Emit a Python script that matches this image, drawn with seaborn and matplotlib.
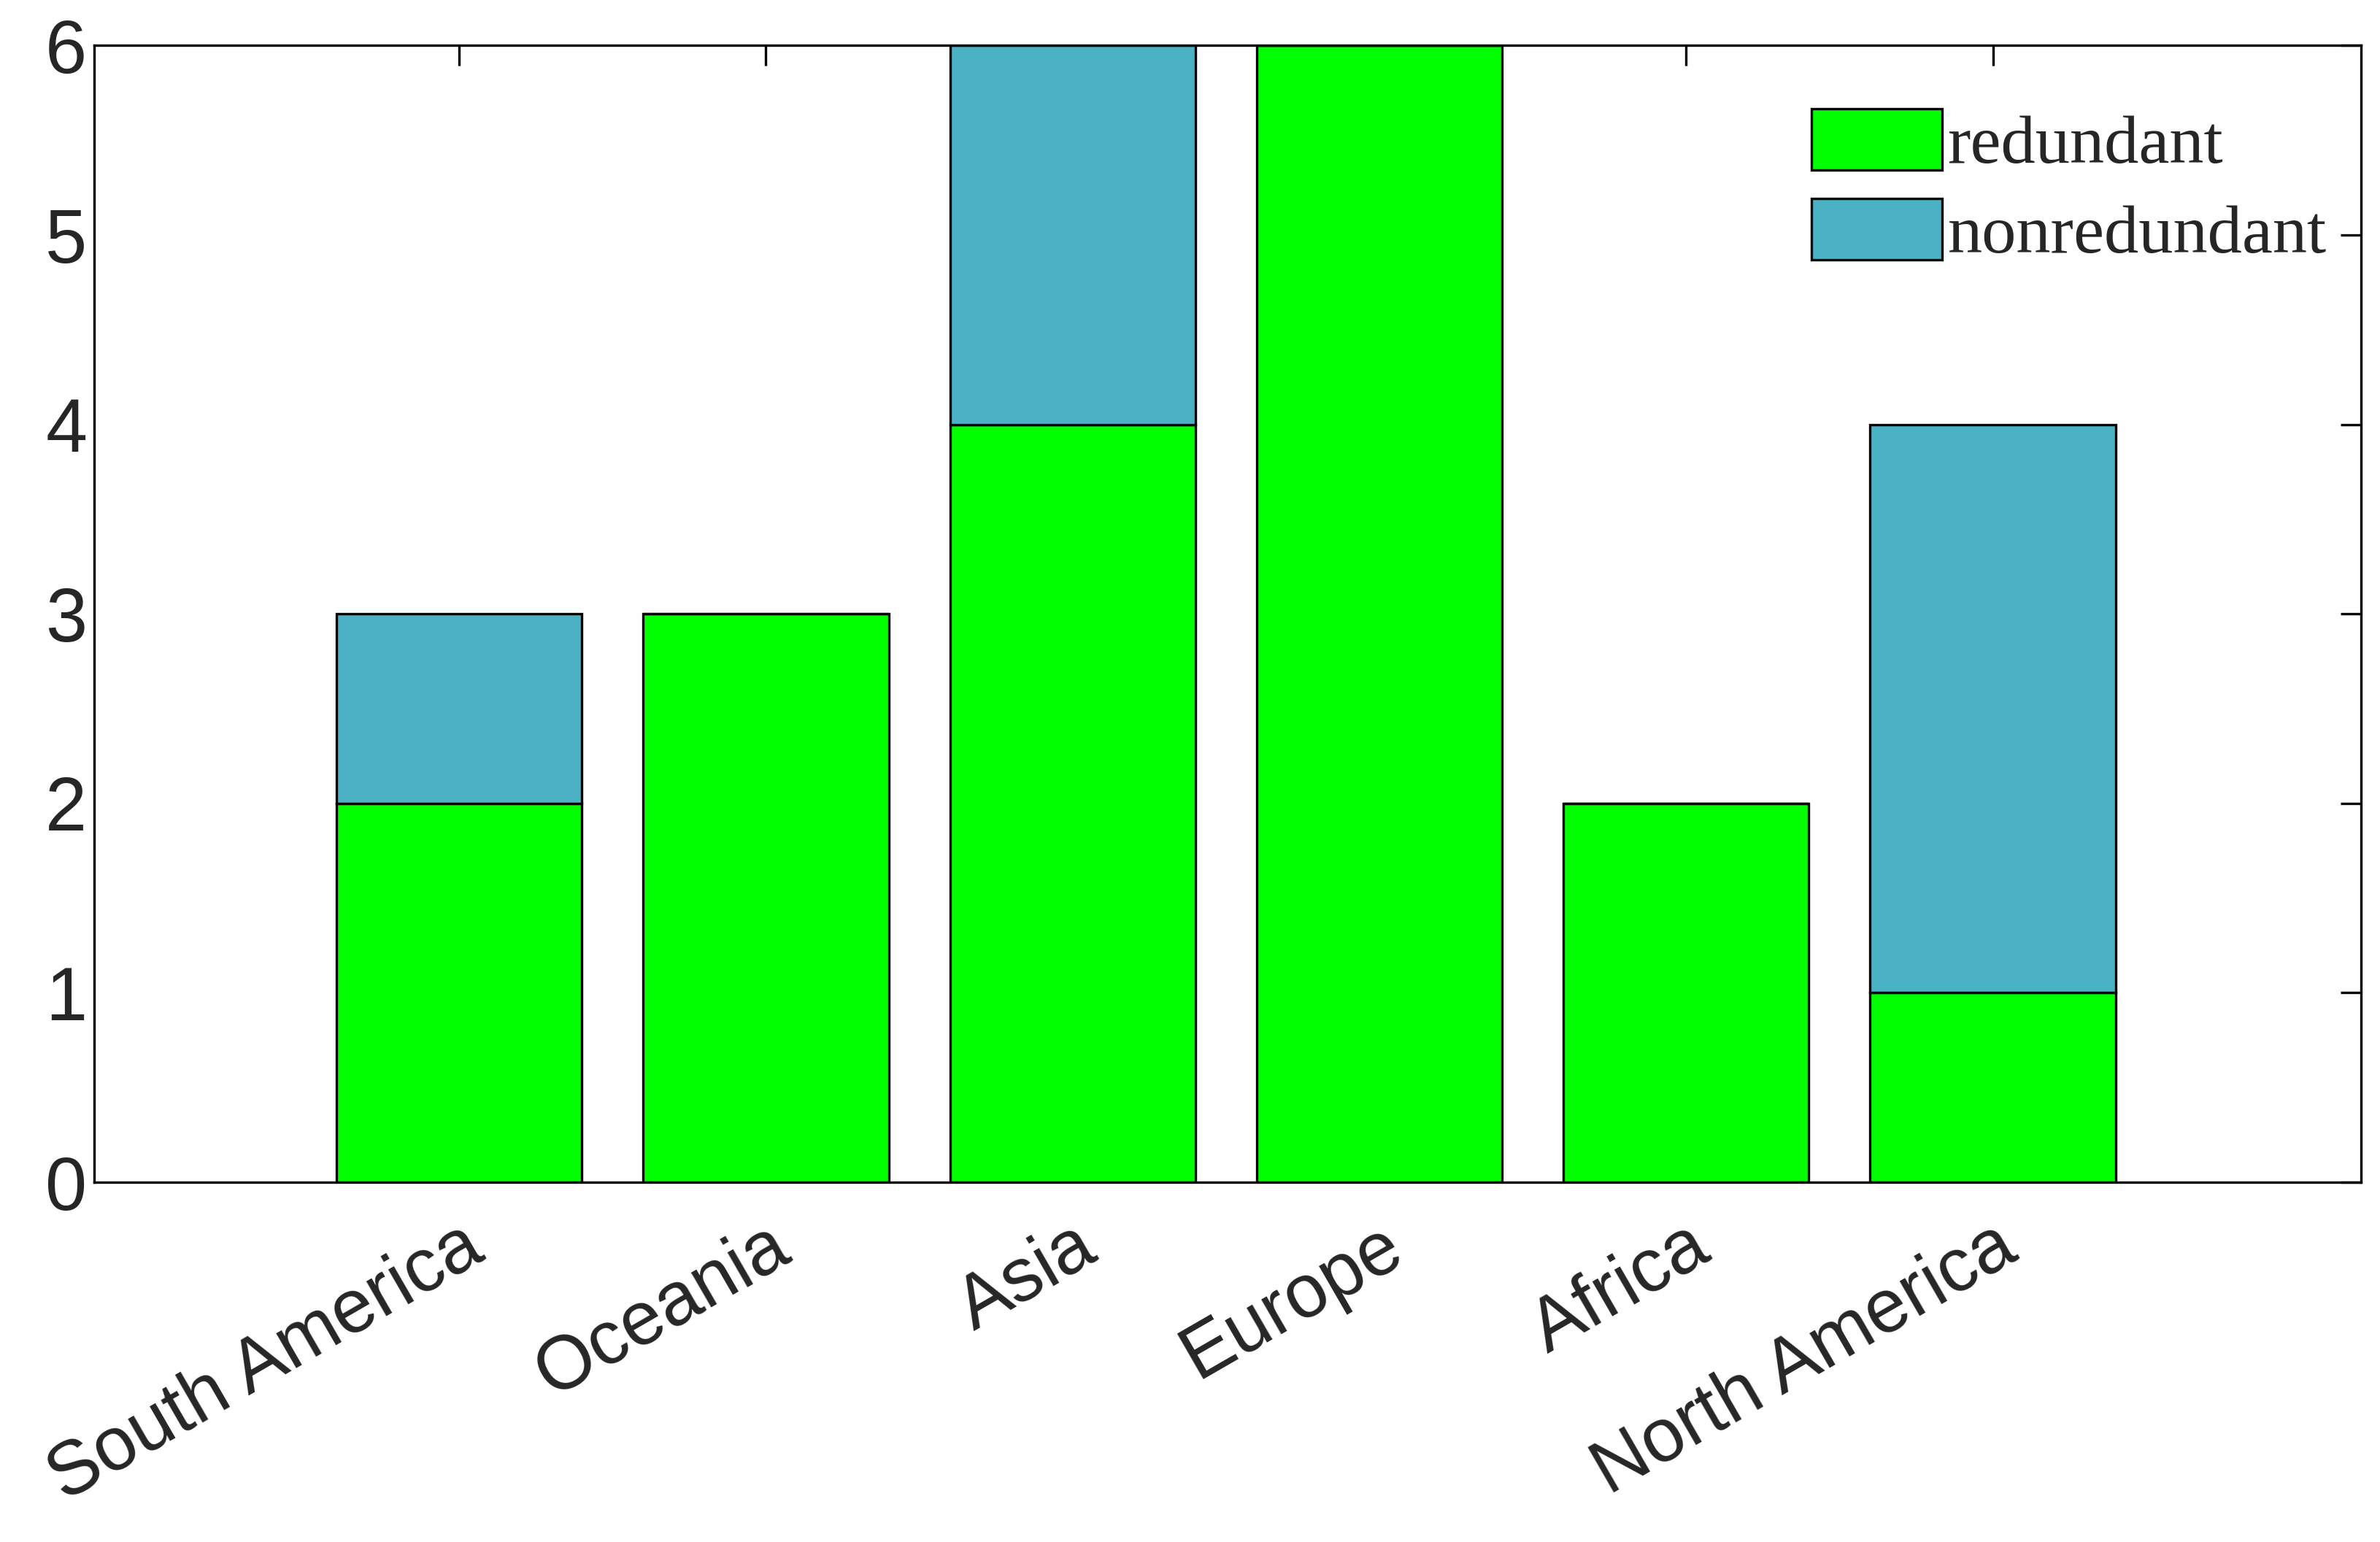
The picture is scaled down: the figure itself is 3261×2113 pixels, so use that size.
import matplotlib
matplotlib.use("Agg")
import matplotlib.pyplot as plt
import seaborn as sns
import pandas as pd

categories = ["South America", "Oceania", "Asia", "Europe", "Africa", "North America"]
redundant = [2, 3, 4, 6, 2, 1]
nonredundant = [1, 0, 2, 0, 0, 3]

sns.set_style("white")
plt.rcParams['font.family'] = ['Liberation Sans', 'DejaVu Sans']

fig = plt.figure(figsize=(16.31, 10.565), dpi=200)
ax = fig.add_axes([62/1568, 1-779/1016, (1555-62)/1568, (779-30)/1016])

df = pd.DataFrame({"cat": categories, "red": redundant, "non": nonredundant})
sns.barplot(data=df, x="cat", y="red", color="#00FF00", saturation=1, width=0.8,
            edgecolor="black", linewidth=1.2, ax=ax, label="redundant")
sns.barplot(data=df, x="cat", y="non", bottom=df["red"], color="#4BB2C5", saturation=1,
            width=0.8, edgecolor="black", linewidth=1.2, ax=ax, label="nonredundant")

ax.set_xlim(-1.19, 6.2)
ax.set_ylim(0, 6)
ax.set_xlabel("")
ax.set_ylabel("")
ax.set_yticks(range(7))
ax.tick_params(direction="in", length=10, width=1.2, top=True, right=True,
               labelsize=37, colors="black", labelcolor="#262626")
ax.tick_params(axis="x", pad=14)
for lab in ax.get_xticklabels():
    lab.set_rotation(30)
    lab.set_ha("right")
    lab.set_rotation_mode("anchor")
for s in ax.spines.values():
    s.set_linewidth(1.2)
    s.set_color("black")
leg = ax.legend(loc="upper right", bbox_to_anchor=(1.0, 0.975), frameon=False,
                prop={"family": "Liberation Serif", "size": 34},
                handlelength=1.9, handleheight=1.0, handletextpad=0.08, labelspacing=0.3,
                borderaxespad=0.1)
fig.savefig("out.png", dpi=200)
